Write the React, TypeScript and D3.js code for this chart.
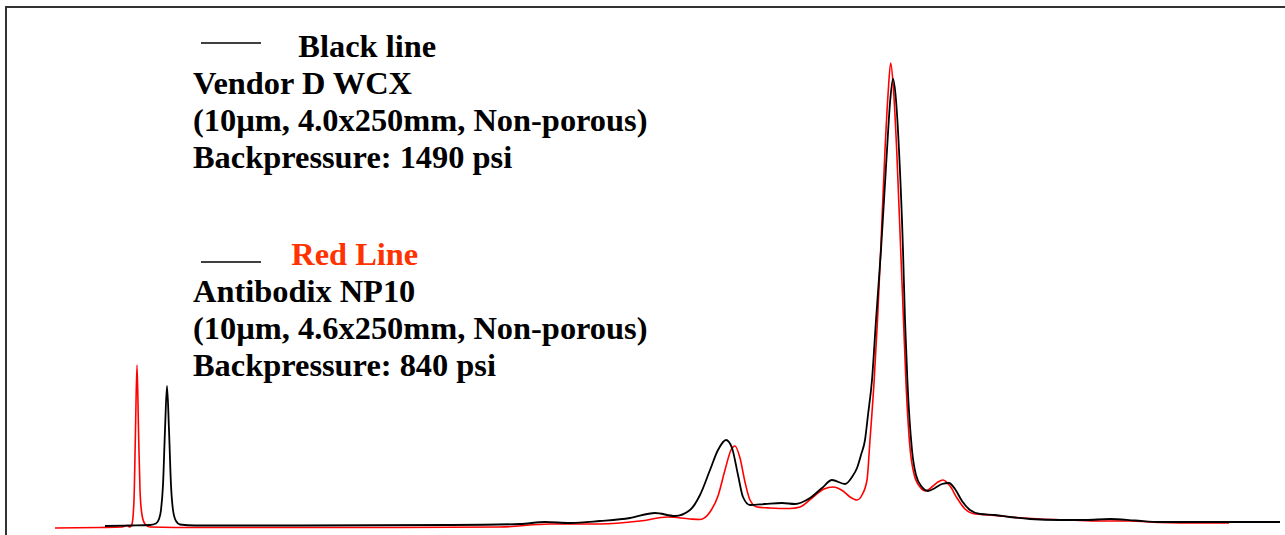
import { useEffect, useRef } from "react";
import * as d3 from "d3";

type Pt = [number, number];

// retention time (min), signal (mAU) — vendor D WCX (black)
const blackTrace: Pt[] = [
  [0.5, 2], [0.75, 2.5], [0.95, 3], [1.01, 4.5], [1.04, 9], [1.06, 18],
  [1.08, 43], [1.1, 98], [1.12, 142], [1.14, 98], [1.16, 43], [1.18, 18],
  [1.21, 7], [1.25, 3.5], [1.4, 2.5], [2.45, 2.5], [3.95, 3], [4.65, 4],
  [4.9, 6], [5.15, 5], [5.45, 7], [5.75, 10], [6.0, 15], [6.2, 12],
  [6.35, 18], [6.45, 33], [6.55, 58], [6.63, 78], [6.71, 88], [6.77, 80],
  [6.83, 53], [6.88, 31], [6.95, 23], [7.1, 24], [7.27, 25], [7.4, 24],
  [7.55, 30], [7.67, 40], [7.77, 48], [7.9, 44], [7.97, 51], [8.02, 60],
  [8.06, 73], [8.1, 88], [8.13, 113], [8.17, 148], [8.21, 208], [8.26, 278],
  [8.32, 378], [8.35, 425], [8.38, 449], [8.41, 428], [8.44, 378], [8.48, 278],
  [8.5, 208], [8.525, 145], [8.57, 78], [8.61, 53], [8.67, 41], [8.73, 37],
  [8.8, 40], [8.87, 44], [8.94, 45], [9.0, 39], [9.07, 27], [9.15, 18],
  [9.25, 14], [9.4, 13], [9.55, 11], [9.75, 9], [10.05, 8], [10.3, 8],
  [10.55, 9], [10.8, 7.5], [11.05, 6], [11.45, 6], [12.25, 6],
];

// Antibodix NP10 (red)
const redTrace: Pt[] = [
  [0.0, 0], [0.45, 0.5], [0.67, 1], [0.72, 2.5], [0.75, 1], [0.77, 4],
  [0.79, 28], [0.805, 98], [0.82, 163], [0.835, 98], [0.85, 38], [0.87, 13],
  [0.9, 4], [0.95, 1], [1.45, 0.5], [3.45, 0.5], [4.45, 1], [4.95, 4],
  [5.45, 4], [5.85, 7], [6.13, 11], [6.35, 9], [6.45, 8.5], [6.55, 16],
  [6.63, 32], [6.7, 58], [6.76, 78], [6.8, 82], [6.85, 70], [6.9, 46],
  [6.95, 28], [7.02, 21], [7.15, 20], [7.35, 19.5], [7.45, 21], [7.57, 30],
  [7.69, 39], [7.78, 41], [7.88, 37], [7.95, 31], [8.02, 28], [8.07, 33],
  [8.12, 48], [8.15, 88], [8.19, 145], [8.225, 208], [8.257, 278], [8.3, 378],
  [8.33, 433], [8.357, 465], [8.385, 438], [8.417, 378], [8.457, 278],
  [8.485, 208], [8.51, 145], [8.55, 80], [8.59, 54], [8.65, 41], [8.71, 37],
  [8.78, 42], [8.83, 46], [8.88, 48], [8.95, 42], [9.02, 30], [9.1, 19],
  [9.2, 14], [9.35, 13], [9.55, 11], [9.85, 9], [10.15, 8], [10.45, 7],
  [10.75, 7], [11.05, 5.5], [11.45, 5], [11.74, 5],
];

const blackLegend = [
  "Vendor D WCX",
  "(10µm, 4.0x250mm, Non-porous)",
  "Backpressure: 1490 psi",
];
const redLegend = [
  "Antibodix NP10",
  "(10µm, 4.6x250mm, Non-porous)",
  "Backpressure: 840 psi",
];

const W = 1285;
const H = 535;

export default function App() {
  const ref = useRef<SVGSVGElement>(null);

  useEffect(() => {
    if (!ref.current) return;
    const svg = d3.select(ref.current);
    svg.selectAll("*").remove();

    const x = d3.scaleLinear().domain([0, 12.25]).range([55, 1280]);
    const y = d3.scaleLinear().domain([0, 470]).range([528, 58]);

    svg
      .append("rect")
      .attr("x", 6)
      .attr("y", 7)
      .attr("width", W + 10)
      .attr("height", H + 10)
      .attr("fill", "white")
      .attr("stroke", "#333")
      .attr("stroke-width", 2);

    const line = d3
      .line<Pt>()
      .x((d) => x(d[0]))
      .y((d) => y(d[1]))
      .curve(d3.curveMonotoneX);

    svg
      .append("path")
      .datum(redTrace)
      .attr("d", line)
      .attr("fill", "none")
      .attr("stroke", "#ff0000")
      .attr("stroke-width", 1.6);

    svg
      .append("path")
      .datum(blackTrace)
      .attr("d", line)
      .attr("fill", "none")
      .attr("stroke", "#000")
      .attr("stroke-width", 1.8);

    const font = "'Liberation Serif', 'Times New Roman', serif";
    const fs = 32;
    const lh = 37;

    const block = (
      top: number,
      lineY: number,
      title: string,
      titleX: number,
      titleColor: string,
      lines: string[]
    ) => {
      svg
        .append("line")
        .attr("x1", 201)
        .attr("x2", 261)
        .attr("y1", lineY)
        .attr("y2", lineY)
        .attr("stroke", "#000")
        .attr("stroke-width", 1.5);
      const g = svg
        .append("g")
        .attr("font-family", font)
        .attr("font-weight", "bold")
        .attr("font-size", fs)
        .attr("transform", "translate(193,0) scale(1.013,1) translate(-193,0)");
      g.append("text").attr("x", titleX).attr("y", top).attr("fill", titleColor).text(title);
      g.selectAll("text.l")
        .data(lines)
        .enter()
        .append("text")
        .attr("class", "l")
        .attr("x", 193)
        .attr("y", (_d, i) => top + lh * (i + 1))
        .attr("fill", "#000")
        .text((d) => d);
    };

    block(57, 43, "Black line", 297, "#000", blackLegend);
    block(265, 262, "Red Line", 290, "#ff3300", redLegend);
  }, []);

  return (
    <svg
      ref={ref}
      width={W}
      height={H}
      style={{ position: "absolute", left: 0, top: 0, background: "white" }}
    />
  );
}
